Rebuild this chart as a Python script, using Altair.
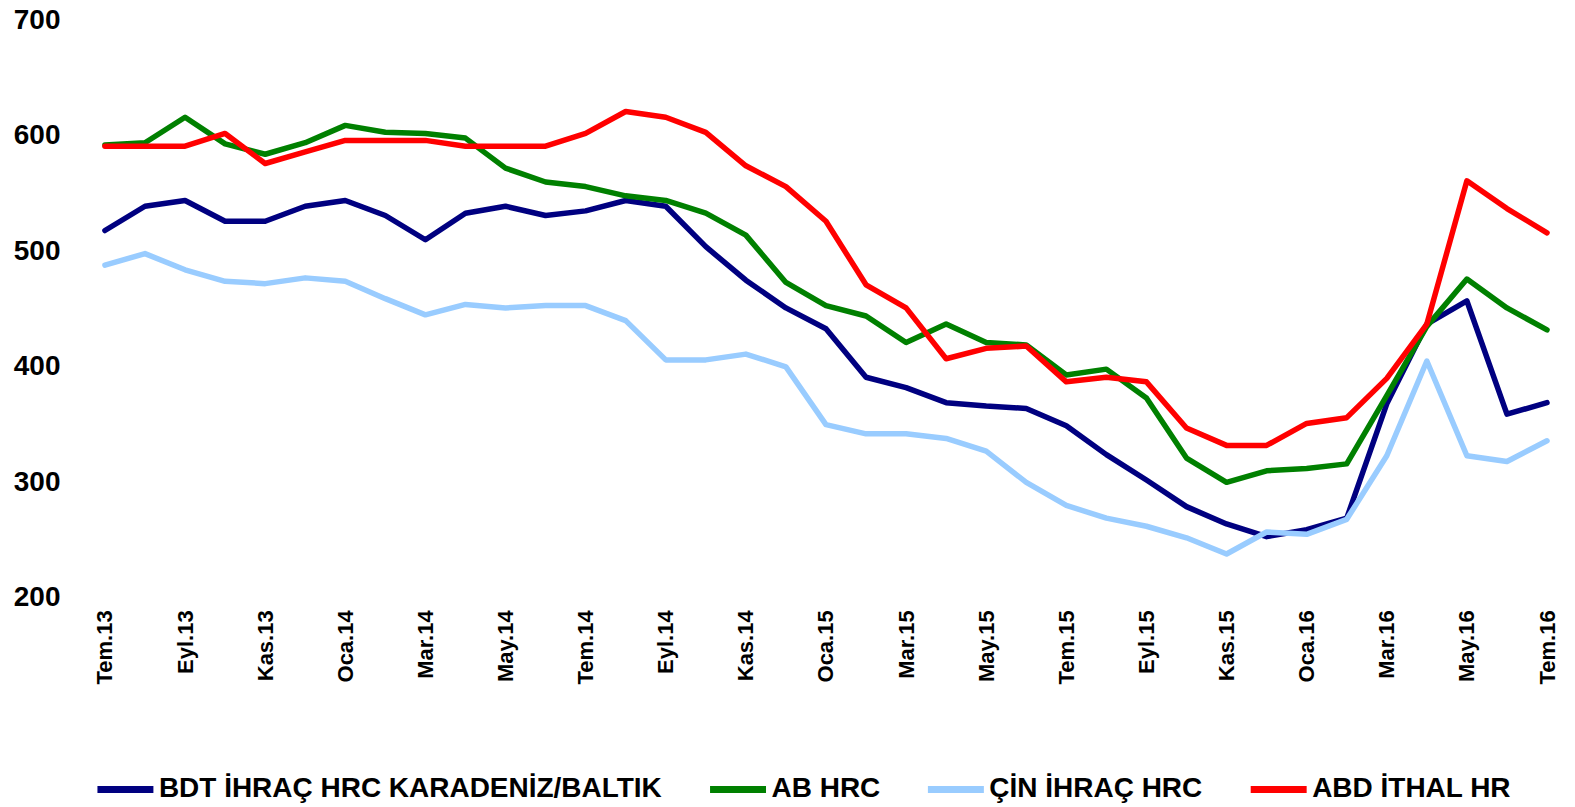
import altair as alt
import pandas as pd

months = ["Tem.13", "Ağu.13", "Eyl.13", "Eki.13", "Kas.13", "Ara.13",
          "Oca.14", "Şub.14", "Mar.14", "Nis.14", "May.14", "Haz.14",
          "Tem.14", "Ağu.14", "Eyl.14", "Eki.14", "Kas.14", "Ara.14",
          "Oca.15", "Şub.15", "Mar.15", "Nis.15", "May.15", "Haz.15",
          "Tem.15", "Ağu.15", "Eyl.15", "Eki.15", "Kas.15", "Ara.15",
          "Oca.16", "Şub.16", "Mar.16", "Nis.16", "May.16", "Haz.16",
          "Tem.16"]

bdt = [518, 539, 544, 526, 526, 539, 544, 531, 510, 533, 539, 531,
       535, 544, 539, 504, 475, 451, 433, 391, 382, 369, 366, 364,
       349, 324, 302, 279, 264, 253, 259, 269, 368, 437, 457, 359,
       369]
ab = [592, 594, 616, 593, 584, 594, 609, 603, 602, 598, 572, 560,
      556, 548, 544, 533, 514, 473, 453, 444, 421, 437, 421, 419,
      393, 398, 373, 321, 300, 310, 312, 316, 375, 435, 476, 451,
      432]
cin = [488, 498, 484, 474, 472, 477, 474, 459, 445, 454, 451, 453,
       453, 440, 406, 406, 411, 400, 350, 342, 342, 338, 327, 300,
       280, 269, 262, 252, 238, 257, 255, 268, 323, 405, 323, 318,
       336]
abd = [591, 591, 591, 602, 576, 586, 596, 596, 596, 591, 591, 591,
       602, 621, 616, 603, 574, 556, 526, 471, 451, 407, 416, 418,
       387, 391, 387, 347, 332, 332, 351, 356, 390, 437, 561, 537,
       516]

series_names = ["BDT İHRAÇ HRC KARADENİZ/BALTIK", "AB HRC", "ÇİN İHRAÇ HRC", "ABD İTHAL HR"]
series_colors = ["#000080", "#008000", "#99CCFF", "#FF0000"]
series_values = [bdt, ab, cin, abd]

y_ticks = [200, 300, 400, 500, 600, 700]
x_ticks = months[::2]

rows = []
for name, vals in zip(series_names, series_values):
    for i, (m, v) in enumerate(zip(months, vals)):
        rows.append({"Ay": m, "Seri": name, "Değer": v, "idx": i})
df = pd.DataFrame(rows)

FONT = "Liberation Sans"

chart = alt.Chart(df).mark_line(strokeWidth=5.5, strokeCap="round", strokeJoin="round").encode(
    x=alt.X("Ay:N", sort=months,
            scale=alt.Scale(type="point", padding=0),
            axis=alt.Axis(title=None, values=x_ticks, labelAngle=270,
                          labelFont=FONT, labelFontSize=22, labelFontWeight="bold",
                          labelColor="black", labelPadding=12, ticks=False,
                          domain=False, grid=False)),
    y=alt.Y("Değer:Q",
            scale=alt.Scale(domain=[200, 700], nice=False, zero=False),
            axis=alt.Axis(title=None, values=y_ticks, labelFont=FONT,
                          labelFontSize=28, labelFontWeight="bold",
                          labelColor="black", labelPadding=45, ticks=False,
                          domain=False, grid=False)),
    color=alt.Color("Seri:N",
                    scale=alt.Scale(domain=series_names, range=series_colors),
                    legend=alt.Legend(title=None, orient="none", direction="horizontal",
                                      legendX=-11, legendY=738, columns=4,
                                      symbolType="stroke", symbolSize=3136,
                                      symbolStrokeWidth=7, labelFont=FONT,
                                      labelFontSize=28, labelFontWeight="bold",
                                      labelColor="black", labelOffset=2,
                                      columnPadding=33, labelLimit=1000)),
    detail="Seri:N",
    order="idx:Q",
).properties(
    width=1443, height=578,
    background="white",
    autosize=alt.AutoSizeParams(type="none"),
    padding={"left": 97, "top": 12, "right": 20, "bottom": 206},
).configure_view(strokeWidth=0, stroke="transparent")

chart.save("out.html", embed_options={"renderer": "svg", "actions": False})
